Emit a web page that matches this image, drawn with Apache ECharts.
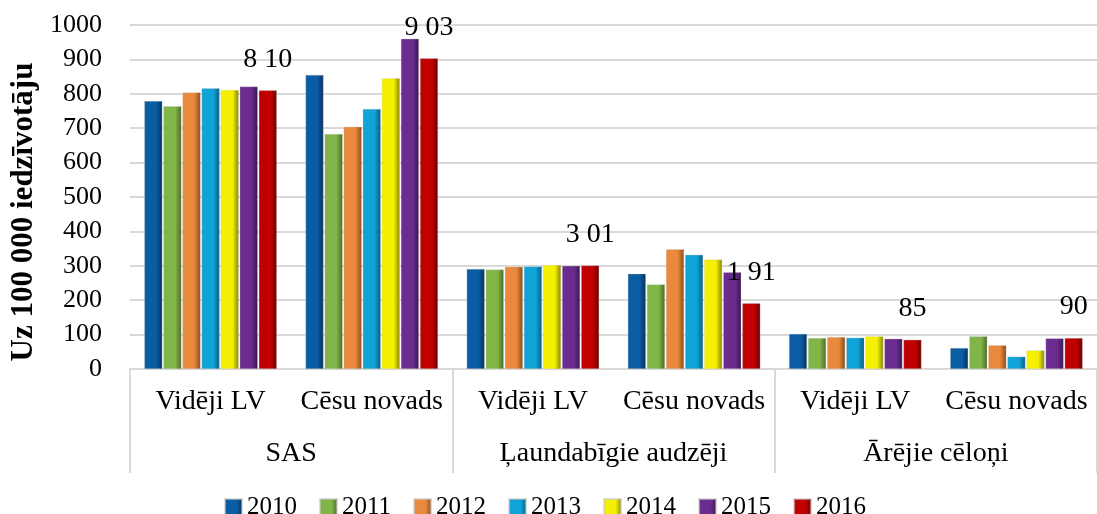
<!DOCTYPE html>
<html>
<head>
<meta charset="utf-8">
<script src="https://cdn.jsdelivr.net/npm/echarts@6/dist/echarts.min.js"></script>
<style>
    html, body { margin: 0; padding: 0; background: #fff; }
    #main { width: 1097px; height: 514px; }
</style>
</head>
<body>
<div id="main"></div>
<script>
// dati
var groups = ['SAS', 'Ļaundabīgie audzēji', 'Ārējie cēloņi'];
var places = ['Vidēji LV', 'Cēsu novads', 'Vidēji LV', 'Cēsu novads', 'Vidēji LV', 'Cēsu novads'];
var years = ['2010', '2011', '2012', '2013', '2014', '2015', '2016'];

var v2010 = [779, 855, 291, 277, 102, 61];
var v2011 = [764, 683, 289, 246, 90, 95];
var v2012 = [804, 704, 297, 348, 93, 69];
var v2013 = [816, 756, 298, 332, 91, 36];
var v2014 = [811, 845, 302, 318, 95, 54];
var v2015 = [821, 960, 300, 281, 88, 89];
var v2016 = [810, 903, 301, 191, 85, 90];
var labels2016 = ['8 10', '9 03', '3 01', '1 91', '85', '90'];

var yTicks = [0, 100, 200, 300, 400, 500, 600, 700, 800, 900, 1000];

var baseColors = ['#0B5DA3', '#82B548', '#E8893E', '#0FA3D8', '#F5F000', '#6A2D8F', '#C00000'];
var darkColors = ['#06335C', '#4A6B26', '#8A4A1A', '#0A5C7C', '#8A8600', '#3A1650', '#6A0000'];

var font = 'Liberation Serif';
var allValues = [v2010, v2011, v2012, v2013, v2014, v2015, v2016];

var myChart = echarts.init(document.getElementById('main'));

var series = [];
for (var i = 0; i < years.length; i++) {
    var s = {
        name: years[i],
        type: 'bar',
        xAxisIndex: 0,
        barWidth: 18,
        barGap: '6%',
        itemStyle: {
            color: new echarts.graphic.LinearGradient(0, 0, 1, 0, [
                { offset: 0, color: baseColors[i] },
                { offset: 0.65, color: baseColors[i] },
                { offset: 1, color: darkColors[i] }
            ]),
            borderColor: 'rgba(200,200,200,0.6)',
            borderWidth: 0.5
        },
        data: allValues[i]
    };
    if (i == years.length - 1) {
        s.label = {
            show: true,
            position: 'top',
            distance: 17,
            color: '#000',
            fontFamily: font,
            fontSize: 28,
            formatter: function (p) {
                return labels2016[p.dataIndex];
            }
        };
    }
    series.push(s);
}

var option = {
    animation: false,
    backgroundColor: '#fff',
    grid: {
        left: 130,
        right: -16,
        top: 25,
        bottom: 145
    },
    legend: {
        data: years,
        left: 219,
        top: 490,
        icon: 'rect',
        itemWidth: 17,
        itemHeight: 17,
        itemGap: 22,
        textStyle: { fontFamily: font, fontSize: 25, color: '#000' }
    },
    xAxis: [
        {
            type: 'category',
            data: places,
            position: 'bottom',
            axisLine: { lineStyle: { color: '#D9D9D9', width: 2 } },
            axisTick: { show: false },
            axisLabel: {
                fontFamily: font, fontSize: 28, color: '#000', margin: 19,
                interval: 0, hideOverlap: false
            }
        },
        {
            type: 'category',
            data: groups,
            position: 'bottom',
            axisLine: { show: false },
            axisTick: { show: true, length: 104, lineStyle: { color: '#D9D9D9', width: 2 } },
            axisLabel: { fontFamily: font, fontSize: 28, color: '#000', margin: 71, interval: 0 }
        }
    ],
    yAxis: {
        type: 'value',
        min: yTicks[0],
        max: yTicks[yTicks.length - 1],
        interval: 100,
        name: 'Uz 100 000 iedzīvotāju',
        nameLocation: 'middle',
        nameGap: 84,
        nameTextStyle: {
            fontFamily: font, fontSize: 31, fontWeight: 'bold', color: '#000',
            padding: [0, 30, 0, 0]
        },
        axisLine: { show: false },
        axisTick: { show: false },
        axisLabel: {
            fontFamily: font, fontSize: 26, color: '#000', margin: 28,
            formatter: function (v) { return String(v); }
        },
        splitLine: { lineStyle: { color: '#D9D9D9', width: 2 } }
    },
    series: series
};
myChart.setOption(option);
</script>
</body>
</html>
